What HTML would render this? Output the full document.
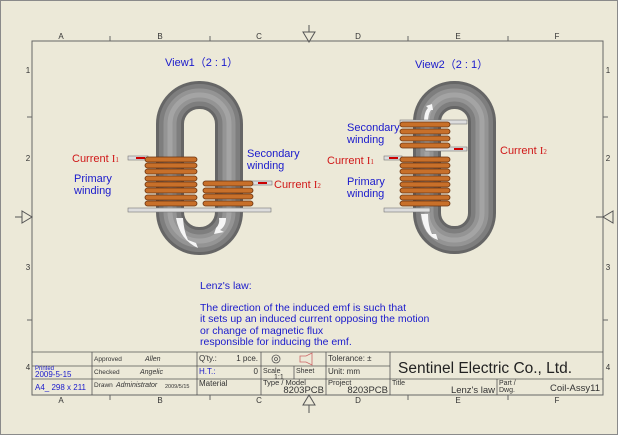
<!DOCTYPE html><html><head><style>body{margin:0;background:#ece9d8}svg{display:block}text{font-family:"Liberation Sans",sans-serif}</style></head><body>
<svg width="618" height="435" viewBox="0 0 618 435" xmlns="http://www.w3.org/2000/svg">
<rect x="0" y="0" width="618" height="435" fill="#ece9d8"/>
<rect x="0.5" y="0.5" width="617" height="434" fill="none" stroke="#8a8a8a"/>
<rect x="32" y="41" width="571" height="354" fill="none" stroke="#666"/>
<g font-size="8" fill="#333" text-anchor="middle">
<text x="61" y="39">A</text><text x="160" y="39">B</text><text x="259" y="39">C</text><text x="358" y="39">D</text><text x="458" y="39">E</text><text x="557" y="39">F</text>
<text x="61" y="403">A</text><text x="160" y="403">B</text><text x="259" y="403">C</text><text x="358" y="403">D</text><text x="458" y="403">E</text><text x="557" y="403">F</text>
<text x="28" y="73">1</text><text x="28" y="161">2</text><text x="28" y="270">3</text><text x="28" y="370">4</text>
<text x="608" y="73">1</text><text x="608" y="161">2</text><text x="608" y="270">3</text><text x="608" y="370">4</text>
</g>
<g stroke="#666">
<line x1="110" y1="36" x2="110" y2="41"/><line x1="210" y1="36" x2="210" y2="41"/><line x1="408" y1="36" x2="408" y2="41"/><line x1="508" y1="36" x2="508" y2="41"/>
<line x1="110" y1="395" x2="110" y2="400"/><line x1="210" y1="395" x2="210" y2="400"/><line x1="408" y1="395" x2="408" y2="400"/><line x1="508" y1="395" x2="508" y2="400"/>
<line x1="27" y1="117" x2="32" y2="117"/><line x1="27" y1="320" x2="32" y2="320"/><line x1="603" y1="117" x2="608" y2="117"/><line x1="603" y1="320" x2="608" y2="320"/>
</g>
<g fill="none" stroke="#555">
<path d="M303 32 L315 32 L309 42 Z M309 25 V32"/>
<path d="M303 405 L315 405 L309 395 Z M309 405 V413"/>
<path d="M22 211 L22 223 L32 217 Z M15 217 H22"/>
<path d="M613 211 L613 223 L603 217 Z M596 217 H603" />
</g>
<!-- View1 -->
<text x="165" y="66" font-size="11" fill="#1a1acc">View1（2 : 1）</text>
<rect x="170" y="95" width="59" height="146" rx="29" fill="none" stroke="#666" stroke-width="28"/>
<rect x="170" y="95" width="59" height="146" rx="29" fill="none" stroke="#7e7e7e" stroke-width="22"/>
<rect x="170" y="95" width="59" height="146" rx="29" fill="none" stroke="#949494" stroke-width="13"/>
<rect x="170" y="95" width="59" height="146" rx="29" fill="none" stroke="#a4a4a4" stroke-width="5"/>
<path d="M176 218 Q180 240 198 248 L196 243 L188 240 Q184 232 183 218Z" fill="#fff" opacity=".9"/>
<path d="M226 218 Q226 226 220 230 L224 232 L214 234 L216 228 Q220 224 219 218Z" fill="#fff" opacity=".9"/>
<rect x="128" y="208" width="143" height="4" fill="#ddd" stroke="#777" stroke-width=".6"/>
<rect x="128" y="156" width="20" height="4" fill="#ddd" stroke="#777" stroke-width=".6"/>
<rect x="136" y="157" width="9" height="2" fill="#c00"/>
<rect x="240" y="181" width="32" height="4" fill="#ddd" stroke="#777" stroke-width=".6"/>
<rect x="258" y="182" width="9" height="2" fill="#c00"/>
<g fill="#c8702a" stroke="#6a3310" stroke-width=".8">
<rect x="145" y="157" width="52" height="5" rx="2.5"/><rect x="145" y="163" width="52" height="5" rx="2.5"/><rect x="145" y="169" width="52" height="5" rx="2.5"/><rect x="145" y="176" width="52" height="5" rx="2.5"/><rect x="145" y="182" width="52" height="5" rx="2.5"/><rect x="145" y="188" width="52" height="5" rx="2.5"/><rect x="145" y="195" width="52" height="5" rx="2.5"/><rect x="145" y="201" width="52" height="5" rx="2.5"/>
<rect x="203" y="181" width="50" height="5" rx="2.5"/><rect x="203" y="188" width="50" height="5" rx="2.5"/><rect x="203" y="194" width="50" height="5" rx="2.5"/><rect x="203" y="201" width="50" height="5" rx="2.5"/>
</g>
<g font-size="11">
<text x="72" y="162" fill="#d01818">Current  <tspan font-family="Liberation Serif">I<tspan font-size="7">1</tspan></tspan></text>
<text x="74" y="182" fill="#1a1acc">Primary</text><text x="74" y="194" fill="#1a1acc">winding</text>
<text x="247" y="157" fill="#1a1acc">Secondary</text><text x="247" y="169" fill="#1a1acc">winding</text>
<text x="274" y="188" fill="#d01818">Current  <tspan font-family="Liberation Serif">I<tspan font-size="7">2</tspan></tspan></text>
</g>
<!-- View2 -->
<text x="415" y="68" font-size="11" fill="#1a1acc">View2（2 : 1）</text>
<rect x="427" y="95" width="55" height="145" rx="27" fill="none" stroke="#666" stroke-width="28"/>
<rect x="427" y="95" width="55" height="145" rx="27" fill="none" stroke="#7e7e7e" stroke-width="22"/>
<rect x="427" y="95" width="55" height="145" rx="27" fill="none" stroke="#949494" stroke-width="13"/>
<rect x="427" y="95" width="55" height="145" rx="27" fill="none" stroke="#a4a4a4" stroke-width="5"/>
<path d="M421 214 Q424 236 438 240 L436 234 L432 234 Q428 226 428 214Z" fill="#fff" opacity=".9"/>
<path d="M424 122 Q424 112 428 108 L426 106 L432 104 L433 110 L431 110 Q428 114 428 122Z" fill="#fff" opacity=".9"/>
<rect x="400" y="120" width="67" height="4" fill="#ddd" stroke="#777" stroke-width=".6"/>
<rect x="425" y="147" width="42" height="4" fill="#ddd" stroke="#777" stroke-width=".6"/>
<rect x="454" y="148" width="9" height="2" fill="#c00"/>
<rect x="384" y="156" width="18" height="4" fill="#ddd" stroke="#777" stroke-width=".6"/>
<rect x="389" y="157" width="9" height="2" fill="#c00"/>
<rect x="384" y="208" width="46" height="4" fill="#ddd" stroke="#777" stroke-width=".6"/>
<g fill="#c8702a" stroke="#6a3310" stroke-width=".8">
<rect x="400" y="122" width="50" height="5" rx="2.5"/><rect x="400" y="129" width="50" height="5" rx="2.5"/><rect x="400" y="136" width="50" height="5" rx="2.5"/><rect x="400" y="143" width="50" height="5" rx="2.5"/>
<rect x="400" y="157" width="50" height="5" rx="2.5"/><rect x="400" y="163" width="50" height="5" rx="2.5"/><rect x="400" y="169" width="50" height="5" rx="2.5"/><rect x="400" y="176" width="50" height="5" rx="2.5"/><rect x="400" y="182" width="50" height="5" rx="2.5"/><rect x="400" y="188" width="50" height="5" rx="2.5"/><rect x="400" y="195" width="50" height="5" rx="2.5"/><rect x="400" y="201" width="50" height="5" rx="2.5"/>
</g>
<g font-size="11">
<text x="347" y="131" fill="#1a1acc">Secondary</text><text x="347" y="143" fill="#1a1acc">winding</text>
<text x="327" y="164" fill="#d01818">Current  <tspan font-family="Liberation Serif">I<tspan font-size="7">1</tspan></tspan></text>
<text x="347" y="185" fill="#1a1acc">Primary</text><text x="347" y="197" fill="#1a1acc">winding</text>
<text x="500" y="154" fill="#d01818">Current  <tspan font-family="Liberation Serif">I<tspan font-size="7">2</tspan></tspan></text>
</g>
<!-- Lenz -->
<g font-size="10.5" fill="#1a1acc">
<text x="200" y="289">Lenz's law:</text>
<text x="200" y="311">The direction of the induced emf is such that</text>
<text x="200" y="322">it sets up an induced current opposing the motion</text>
<text x="200" y="334">or change of magnetic flux</text>
<text x="200" y="345">responsible for inducing the emf.</text>
</g>
<!-- title block -->
<g stroke="#555" stroke-width=".8" fill="none">
<line x1="32" y1="352" x2="603" y2="352"/>
<line x1="32" y1="366" x2="390" y2="366"/>
<line x1="32" y1="379" x2="603" y2="379"/>
<line x1="92" y1="352" x2="92" y2="395"/><line x1="197" y1="352" x2="197" y2="395"/><line x1="261" y1="352" x2="261" y2="395"/><line x1="326" y1="352" x2="326" y2="395"/><line x1="390" y1="352" x2="390" y2="395"/><line x1="497" y1="379" x2="497" y2="395"/>
<line x1="294" y1="366" x2="294" y2="379"/>
<circle cx="276" cy="359" r="4"/><circle cx="276" cy="359" r="1.5"/><path d="M300 356 h6 l6 -3 v12 l-6 -3 h-6z" stroke="#c66"/>
</g>
<g font-size="6.5" fill="#333">
<text x="94" y="361">Approved</text><text x="94" y="374">Checked</text><text x="94" y="387">Drawn</text>
<text x="35" y="370" fill="#1a1acc" font-size="6">Printed</text>
<text x="199" y="361" font-size="8">Q'ty.:</text><text x="258" y="361" font-size="8" text-anchor="end">1 pce.</text>
<text x="199" y="374" font-size="8" fill="#1a1acc">H.T.:</text><text x="258" y="374" font-size="8" text-anchor="end">0</text>
<text x="199" y="386" font-size="8">Material</text>
<text x="263" y="373" font-size="7">Scale</text><text x="274" y="379" font-size="7">1:1</text><text x="296" y="373" font-size="7">Sheet</text>
<text x="263" y="385" font-size="7.5">Type / Model</text>
<text x="328" y="361" font-size="8">Tolerance:  ±</text><text x="328" y="374" font-size="8">Unit: mm</text>
<text x="328" y="385" font-size="7.5">Project</text>
<text x="392" y="385" font-size="7">Title</text><text x="499" y="385" font-size="7">Part /</text><text x="499" y="392" font-size="7">Dwg.</text>
<text x="165" y="388" font-size="5.5">2009/5/15</text>
</g>
<g font-style="italic" font-family="Liberation Serif" font-size="7" fill="#333">
<text x="145" y="361">Allen</text><text x="140" y="374">Angelic</text><text x="116" y="387">Administrator</text>
</g>
<text x="35" y="377" font-size="8" fill="#1a1acc">2009-5-15</text>
<text x="35" y="390" font-size="8" fill="#1a1acc">A4_ 298 x 211</text>
<text x="324" y="393" font-size="9.5" fill="#333" text-anchor="end">8203PCB</text>
<text x="388" y="393" font-size="9.5" fill="#333" text-anchor="end">8203PCB</text>
<text x="495" y="393" font-size="9.5" fill="#333" text-anchor="end">Lenz's law</text>
<text x="600" y="391" font-size="9.5" fill="#333" text-anchor="end">Coil-Assy11</text>
<text x="398" y="373" font-size="15.5" fill="#222">Sentinel Electric Co., Ltd.</text>
</svg>
</body></html>
